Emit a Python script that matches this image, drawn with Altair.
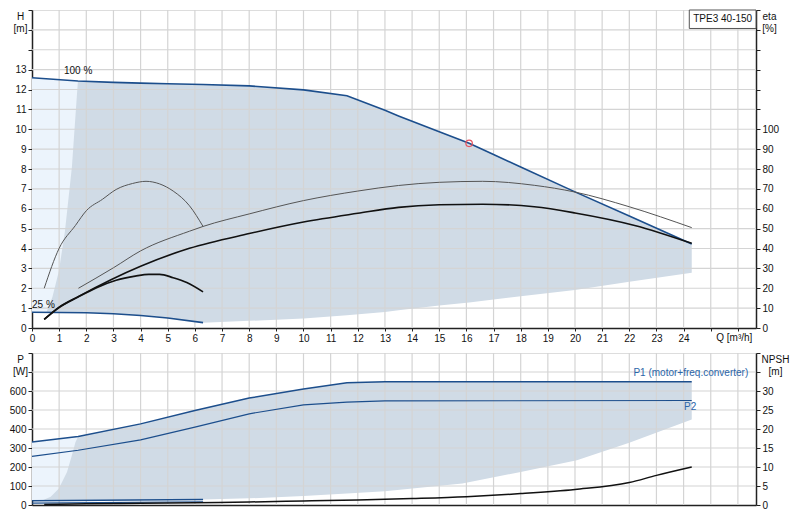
import altair as alt
import pandas as pd

FONT = "Liberation Sans"
TXT = "#111111"
DARK = "#222222"
BLUE = "#1c4e8c"
LBLUE = "#2b65a8"
SHADE = "#d0dbe6"
LIGHT = "#ecf4fc"
GRID = "#d4d4d4"

# ---------------- top panel: head curves (H in m) ----------------
H100_Q = [0, 1.69, 3, 4, 5, 6.3, 8, 10, 11.6, 13, 13.5, 15, 16.1, 17, 18, 20, 22, 24.3]
H100_H = [12.59, 12.43, 12.36, 12.32, 12.29, 12.25, 12.18, 11.98, 11.69, 10.95, 10.67, 9.87, 9.29, 8.73, 8.10, 6.85, 5.63, 4.23]
H25_Q = [0, 2, 3, 4, 5, 6.3]
H25_H = [0.79, 0.77, 0.72, 0.63, 0.50, 0.27]

# operating range (shaded) and light zone
AREA_Q = [0.53, 0.75, 0.99, 1.21, 1.47, 1.69, 3, 4, 5, 6.3, 8, 10, 11.6, 13, 13.5, 15, 16.1, 17, 18, 20, 22, 24.3]
AREA_LOW = [0.79, 0.79, 0.78, 0.78, 0.78, 0.78, 0.72, 0.63, 0.50, 0.27, 0.36, 0.48, 0.64, 0.81, 0.89, 1.13, 1.28, 1.44, 1.60, 1.91, 2.33, 2.78]
AREA_HIGH = [0.79, 1.55, 2.86, 4.83, 8.10, 12.43, 12.36, 12.32, 12.29, 12.25, 12.18, 11.98, 11.69, 10.95, 10.67, 9.87, 9.29, 8.73, 8.10, 6.85, 5.63, 4.23]
LIGHT_Q = [0, 0.53, 1.69]
LIGHT_LOW = [0.79, 0.79, 0.78]
LIGHT_HIGH = [12.59, 12.55, 12.43]

# efficiency curves (eta in %)
ETA_P100_Q = [1.71, 3, 4, 5.8, 6.3, 8, 10, 12, 13.5, 15, 16.6, 18.5, 20, 22, 24.3]
ETA_P100 = [20, 30.3, 38.8, 48.7, 51.1, 57.4, 64.1, 68.9, 71.7, 73.3, 73.8, 71.8, 68.4, 61.0, 50.5]
ETA_P25_Q = [0.45, 1.0, 1.6, 2.0, 2.6, 3.1, 3.7, 4.2, 4.7, 5.2, 5.8, 6.3]
ETA_P25 = [20, 40.1, 51.6, 59.0, 64.8, 69.7, 72.7, 73.8, 72.5, 68.9, 61.5, 51.1]
ETA_T100_Q = [0.45, 1.0, 1.7, 4, 5.8, 8, 10, 12, 13.5, 15, 16.6, 18.5, 20, 22.2, 24.3]
ETA_T100 = [4.3, 10.5, 15.8, 31.1, 40.1, 47.5, 53.3, 57.7, 60.7, 62.0, 62.3, 61.0, 57.9, 51.6, 42.6]
ETA_T25_Q = [0.45, 1.0, 1.7, 2.4, 3.1, 3.8, 4.3, 4.7, 5.2, 5.7, 6.3]
ETA_T25 = [4.3, 10.3, 15.6, 20.4, 24.0, 26.1, 27.0, 27.0, 25.3, 22.9, 18.2]

DUTY_Q = [16.1]
DUTY_H = [9.29]

# ---------------- bottom panel: power (W) and NPSH (m) ----------------
P1_Q = [0, 1.7, 4, 6, 8, 10, 11.6, 13, 24.3]
P1_W = [331, 361, 427, 497, 563, 610, 644, 649, 649]
P2_Q = [0, 1.7, 4, 6, 8, 10, 11.6, 13, 24.3]
P2_W = [256, 288, 343, 410, 480, 527, 541, 548, 550]
P1_25_Q = [0, 6.3]
P1_25_W = [22, 29]
P2_25_Q = [0, 6.3]
P2_25_W = [10, 17]
NPSH_Q = [0.45, 2, 4, 6, 8, 10, 12, 14, 16, 18, 20, 22, 23, 24.3]
NPSH_M = [0.1, 0.3, 0.45, 0.6, 0.8, 1.05, 1.3, 1.7, 2.2, 3.0, 4.1, 5.9, 7.8, 10.0]

PAREA_Q = [0.35, 0.69, 0.99, 1.29, 1.47, 1.6, 1.7, 4, 6, 6.3, 8, 10, 11.6, 13, 15.85, 18, 20.07, 22, 24.3]
PAREA_LOW = [22.4, 22.8, 23.1, 23.4, 23.6, 23.7, 23.8, 26.3, 28.5, 29, 35, 47, 60, 72, 113, 174, 235, 328, 450]
PAREA_HIGH = [22.4, 43, 87, 174, 262, 330, 361, 427, 497, 507, 563, 610, 644, 649, 649, 649, 649, 649, 649]
PLIGHT_Q = [0, 0.35, 1.7]
PLIGHT_LOW = [22, 22.4, 23.8]
PLIGHT_HIGH = [331, 337, 361]

# ticks / grid
Q_TICKS = list(range(0, 27))
H_TICKS = list(range(0, 17))
ETA_TICKS = list(range(0, 161, 10))
P_TICKS = list(range(0, 801, 100))
NPSH_TICKS = list(range(0, 41, 5))
GRID_Q = list(range(1, 27))
GRID_H = list(range(1, 16))
GRID_P = list(range(100, 800, 100))

# annotations
TITLE_TXT = "TPE3 40-150"
BOX_Q = [24.21]
BOX_Q2 = [26.667]
BOX_H = [15.07]
BOX_H2 = [16]
QMAX = 26.667

W = 724
H_TOP = 318
H_BOT = 152


def df(**cols):
    return pd.DataFrame(cols)


def hide_above(limit):
    # labels above the limit are not shown (size 0, so they take no room)
    return {"condition": {"test": f"datum.value > {limit}", "value": 0}, "value": 10}


def common_axis(**kw):
    base = dict(grid=False, tickColor=DARK, tickSize=4, domainColor=DARK, domainWidth=1.5,
                labelFont=FONT, labelFontSize=10, labelColor=TXT, labelPadding=2,
                labelOverlap=False, labelFlush=False,
                titleFont=FONT, titleFontSize=10, titleFontWeight="normal", titleColor=TXT)
    base.update(kw)
    return alt.Axis(**base)


xscale = alt.Scale(domain=[0, QMAX], nice=False, zero=False)
X_TOP = alt.X("q:Q", scale=xscale, axis=common_axis(
    values=Q_TICKS, labelExpr="datum.value <= 24 ? datum.label : ''", labelFontSize=hide_above(24),
    tickSize=3, title="Q [m³/h]", titleX=W * 25.85 / QMAX, titleY=4, titleAlign="center",
    titleBaseline="top"))
X_BOT = alt.X("q:Q", scale=xscale, axis=common_axis(labels=False, ticks=False, title=None))

Y_H = alt.Y("h:Q", scale=alt.Scale(domain=[0, 16], nice=False, zero=False), axis=common_axis(
    orient="left", values=H_TICKS, labelExpr="datum.value <= 13 ? datum.label : ''",
    labelFontSize=hide_above(13),
    title=["H", "[m]"], titleAngle=0, titleAlign="center", titleBaseline="top",
    titleX=-12, titleY=1, titleLineHeight=12))
Y_ETA = alt.Y("eta:Q", scale=alt.Scale(domain=[0, 160], nice=False, zero=False), axis=common_axis(
    orient="right", values=ETA_TICKS, labelExpr="datum.value <= 100 ? datum.label : ''",
    labelFontSize=hide_above(100),
    title=["eta", "[%]"], titleAngle=0, titleAlign="center", titleBaseline="top",
    titleX=13, titleY=1, titleLineHeight=12))
Y_P = alt.Y("p:Q", scale=alt.Scale(domain=[0, 800], nice=False, zero=False), axis=common_axis(
    orient="left", values=P_TICKS, labelExpr="datum.value <= 600 ? datum.label : ''",
    labelFontSize=hide_above(600),
    title=["P", "[W]"], titleAngle=0, titleAlign="center", titleBaseline="top",
    titleX=-12, titleY=1, titleLineHeight=12))
Y_NPSH = alt.Y("n:Q", scale=alt.Scale(domain=[0, 40], nice=False, zero=False), axis=common_axis(
    orient="right", values=NPSH_TICKS, labelExpr="datum.value <= 30 ? datum.label : ''",
    labelFontSize=hide_above(30),
    title=["NPSH", "[m]"], titleAngle=0, titleAlign="center", titleBaseline="top",
    titleX=19, titleY=1, titleLineHeight=12))

# ---------------- top panel ----------------
t_light = alt.Chart(df(q=LIGHT_Q, h=LIGHT_LOW, h2=LIGHT_HIGH)).mark_area(
    color=LIGHT, opacity=1).encode(x=X_TOP, y=Y_H, y2=alt.Y2("h2:Q"))
t_area = alt.Chart(df(q=AREA_Q, h=AREA_LOW, h2=AREA_HIGH)).mark_area(
    color=SHADE, opacity=1).encode(x=X_TOP, y=Y_H, y2=alt.Y2("h2:Q"))
t_vgrid = alt.Chart(df(q=GRID_Q)).mark_rule(color=GRID, strokeWidth=1.2).encode(x=X_TOP)
t_hgrid = alt.Chart(df(h=GRID_H)).mark_rule(color=GRID, strokeWidth=1.2).encode(y=Y_H)
t_h100 = alt.Chart(df(q=H100_Q, h=H100_H)).mark_line(color=BLUE, strokeWidth=1.6).encode(x=X_TOP, y=Y_H)
t_h25 = alt.Chart(df(q=H25_Q, h=H25_H)).mark_line(color=BLUE, strokeWidth=1.6).encode(x=X_TOP, y=Y_H)
t_duty = alt.Chart(df(q=DUTY_Q, h=DUTY_H)).mark_point(
    shape="circle", filled=False, color="#e8525c", size=42, strokeWidth=1.2, opacity=1).encode(x=X_TOP, y=Y_H)
t_lbl100 = alt.Chart(df(q=[1.7], h=[12.92], t=["100 %"])).mark_text(
    font=FONT, fontSize=10, color=TXT, align="center", baseline="middle").encode(x=X_TOP, y=Y_H, text="t:N")
t_lbl25 = alt.Chart(df(q=[0.42], h=[1.18], t=["25 %"])).mark_text(
    font=FONT, fontSize=10, color=TXT, align="center", baseline="middle").encode(x=X_TOP, y=Y_H, text="t:N")
t_box = alt.Chart(df(q=BOX_Q, q2=BOX_Q2, h=BOX_H, h2=BOX_H2)).mark_rect(
    fill="white", stroke="#555555", strokeWidth=1).encode(x=X_TOP, x2=alt.X2("q2:Q"), y=Y_H, y2=alt.Y2("h2:Q"))
t_boxtxt = alt.Chart(df(q=[25.44], h=[15.55], t=[TITLE_TXT])).mark_text(
    font=FONT, fontSize=10, color=TXT, align="center", baseline="middle").encode(x=X_TOP, y=Y_H, text="t:N")

top_main = alt.layer(t_light, t_area, t_vgrid, t_hgrid, t_h100, t_h25, t_duty,
                     t_lbl100, t_lbl25, t_box, t_boxtxt)

e_p100 = alt.Chart(df(q=ETA_P100_Q, eta=ETA_P100)).mark_line(
    color="#555555", strokeWidth=1, interpolate="monotone").encode(x=X_TOP, y=Y_ETA)
e_p25 = alt.Chart(df(q=ETA_P25_Q, eta=ETA_P25)).mark_line(
    color="#555555", strokeWidth=1, interpolate="monotone").encode(x=X_TOP, y=Y_ETA)
e_t100 = alt.Chart(df(q=ETA_T100_Q, eta=ETA_T100)).mark_line(
    color="#111111", strokeWidth=1.6, interpolate="monotone").encode(x=X_TOP, y=Y_ETA)
e_t25 = alt.Chart(df(q=ETA_T25_Q, eta=ETA_T25)).mark_line(
    color="#111111", strokeWidth=1.6, interpolate="monotone").encode(x=X_TOP, y=Y_ETA)
top_eta = alt.layer(e_p100, e_p25, e_t100, e_t25)

top = alt.layer(top_main, top_eta).resolve_scale(y="independent").properties(width=W, height=H_TOP)

# ---------------- bottom panel ----------------
b_light = alt.Chart(df(q=PLIGHT_Q, p=PLIGHT_LOW, p2=PLIGHT_HIGH)).mark_area(
    color=LIGHT, opacity=1).encode(x=X_BOT, y=Y_P, y2=alt.Y2("p2:Q"))
b_area = alt.Chart(df(q=PAREA_Q, p=PAREA_LOW, p2=PAREA_HIGH)).mark_area(
    color=SHADE, opacity=1).encode(x=X_BOT, y=Y_P, y2=alt.Y2("p2:Q"))
b_vgrid = alt.Chart(df(q=GRID_Q)).mark_rule(color=GRID, strokeWidth=1.2).encode(x=X_BOT)
b_hgrid = alt.Chart(df(p=GRID_P)).mark_rule(color=GRID, strokeWidth=1.2).encode(y=Y_P)
b_p1 = alt.Chart(df(q=P1_Q, p=P1_W)).mark_line(color=BLUE, strokeWidth=1.5).encode(x=X_BOT, y=Y_P)
b_p2 = alt.Chart(df(q=P2_Q, p=P2_W)).mark_line(color=BLUE, strokeWidth=1.2).encode(x=X_BOT, y=Y_P)
b_p1_25 = alt.Chart(df(q=P1_25_Q, p=P1_25_W)).mark_line(color=BLUE, strokeWidth=1.5).encode(x=X_BOT, y=Y_P)
b_p2_25 = alt.Chart(df(q=P2_25_Q, p=P2_25_W)).mark_line(color=BLUE, strokeWidth=1.2).encode(x=X_BOT, y=Y_P)
b_lp1 = alt.Chart(df(q=[26.38], p=[693], t=["P1 (motor+freq.converter)"])).mark_text(
    font=FONT, fontSize=10, color=LBLUE, align="right", baseline="middle").encode(x=X_BOT, y=Y_P, text="t:N")
b_lp2 = alt.Chart(df(q=[24.24], p=[518], t=["P2"])).mark_text(
    font=FONT, fontSize=10, color=LBLUE, align="center", baseline="middle").encode(x=X_BOT, y=Y_P, text="t:N")
bot_main = alt.layer(b_light, b_area, b_vgrid, b_hgrid, b_p1, b_p2, b_p1_25, b_p2_25, b_lp1, b_lp2)

b_npsh = alt.Chart(df(q=NPSH_Q, n=NPSH_M)).mark_line(
    color="#111111", strokeWidth=1.5, interpolate="monotone").encode(x=X_BOT, y=Y_NPSH)

bottom = alt.layer(bot_main, b_npsh).resolve_scale(y="independent").properties(width=W, height=H_BOT)

chart = alt.vconcat(top, bottom, spacing=25, bounds="flush", padding=0).configure_view(
    stroke="#8a8a8a", strokeWidth=1).configure(background="white")

chart.save("out.html", embed_options={"renderer": "svg", "actions": False})
